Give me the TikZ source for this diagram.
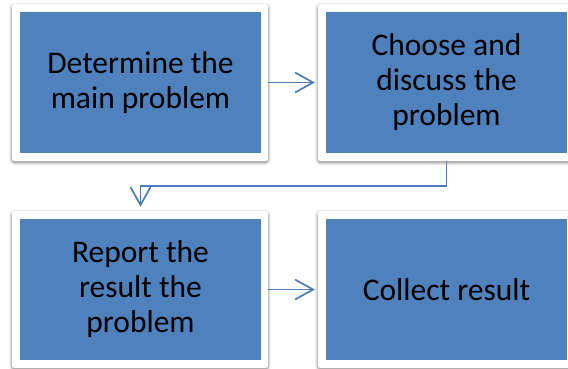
\documentclass[tikz,border=0pt]{standalone}
\usepackage{fontspec}
\setmainfont{Carlito}
\usetikzlibrary{arrows.meta,calc,backgrounds,shadows.blur}

\definecolor{stepblue}{HTML}{4F81BD}
\definecolor{linkblue}{HTML}{4A7EBB}

\tikzset{
  stepbox/.style={rectangle, fill=stepblue, minimum width=241pt, minimum height=141pt,
    inner sep=0pt, align=center, font=\fontsize{31.5}{35}\selectfont, text=black},
  framebox/.style={fill=white, rounded corners=3pt,
    blur shadow={shadow xshift=0pt, shadow yshift=-1.5pt, shadow blur radius=3pt,
      shadow blur steps=6, shadow opacity=50}},
  link/.style={draw=linkblue, line width=1.7pt,
    -{Straight Barb[length=18pt, width=20pt, line width=1.7pt]}}
}

\begin{document}
\begin{tikzpicture}[x=1pt, y=1pt]
  \useasboundingbox (0,0) rectangle (568,368);
  \clip (0,0) rectangle (568,368);

  \node[stepbox] (b1) at (140.5,285.5) {Determine the\\main problem};
  \node[stepbox] (b2) at (446.5,285.5) {Choose and\\discuss the\\problem};
  \node[stepbox] (b3) at (140.5,78.5) {Report the\\result the\\problem};
  \node[stepbox] (b4) at (446.5,78.5) {Collect result};

  % white frames behind each step
  \begin{scope}[on background layer]
    \foreach \n in {b1,b2,b3,b4}
      \path[framebox] ($(\n.north west)+(-8,8)$) rectangle ($(\n.south east)+(7,-8)$);
  \end{scope}

  % connectors
  \coordinate (e1) at ($(b1.east)+(7,0)$);
  \coordinate (e3) at ($(b3.east)+(7,0)$);
  \coordinate (s2) at ($(b2.south)+(0,-8)$);
  \draw[link] (e1) -- ($(b2.west)+(-11,0)$);
  \draw[link] (e3) -- ($(b4.west)+(-11,0)$);
  \draw[link] (s2) |- ($(b3.north)+(0,33)$) -- ($(b3.north)+(0,12)$);
\end{tikzpicture}
\end{document}
